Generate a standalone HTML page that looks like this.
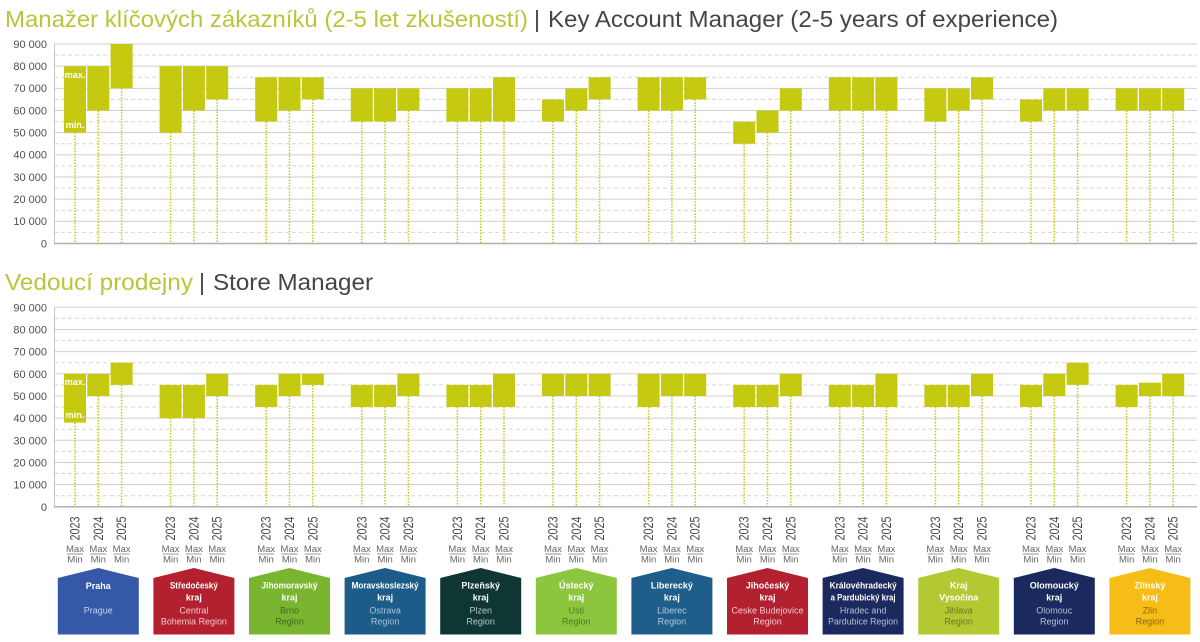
<!DOCTYPE html>
<html><head><meta charset="utf-8"><style>
html,body{margin:0;padding:0;background:#fff;}
svg{display:block;font-family:"Liberation Sans","DejaVu Sans",sans-serif;}
</style></head><body>
<svg width="1200" height="642" viewBox="0 0 1200 642" xmlns="http://www.w3.org/2000/svg">
<rect width="1200" height="642" fill="#fff"/>
<!-- Titles -->
<text x="5" y="27" font-size="23" fill="#bac53b" textLength="523" lengthAdjust="spacingAndGlyphs">Manažer klíčových zákazníků (2-5 let zkušeností)</text>
<text x="534" y="27" font-size="23" fill="#454545">|</text>
<text x="548" y="27" font-size="23" fill="#454545" textLength="510" lengthAdjust="spacingAndGlyphs">Key Account Manager (2-5 years of experience)</text>

<text x="5" y="290" font-size="23" fill="#bac53b" textLength="188" lengthAdjust="spacingAndGlyphs">Vedoucí prodejny</text>
<text x="199" y="290" font-size="23" fill="#454545">|</text>
<text x="213" y="290" font-size="23" fill="#454545" textLength="160" lengthAdjust="spacingAndGlyphs">Store Manager</text>

<!-- TOP CHART GRID -->
<g stroke="#cfcfcf" stroke-width="1">
<line x1="54" y1="44" x2="1197" y2="44"/>
<line x1="54" y1="66.17" x2="1197" y2="66.17"/>
<line x1="54" y1="88.33" x2="1197" y2="88.33"/>
<line x1="54" y1="110.5" x2="1197" y2="110.5"/>
<line x1="54" y1="132.67" x2="1197" y2="132.67"/>
<line x1="54" y1="154.83" x2="1197" y2="154.83"/>
<line x1="54" y1="177" x2="1197" y2="177"/>
<line x1="54" y1="199.17" x2="1197" y2="199.17"/>
<line x1="54" y1="221.33" x2="1197" y2="221.33"/>
</g>
<g stroke="#d6d6d6" stroke-width="1" stroke-dasharray="4 3">
<line x1="54" y1="55.08" x2="1197" y2="55.08"/>
<line x1="54" y1="77.25" x2="1197" y2="77.25"/>
<line x1="54" y1="99.42" x2="1197" y2="99.42"/>
<line x1="54" y1="121.58" x2="1197" y2="121.58"/>
<line x1="54" y1="143.75" x2="1197" y2="143.75"/>
<line x1="54" y1="165.92" x2="1197" y2="165.92"/>
<line x1="54" y1="188.08" x2="1197" y2="188.08"/>
<line x1="54" y1="210.25" x2="1197" y2="210.25"/>
<line x1="54" y1="232.42" x2="1197" y2="232.42"/>
</g>
<line x1="54.5" y1="44" x2="54.5" y2="243.5" stroke="#c4c4c4" stroke-width="1"/>
<line x1="54" y1="243.5" x2="1197" y2="243.5" stroke="#b0b0b0" stroke-width="1.5"/>
<g font-size="11" fill="#505050" text-anchor="end">
<text x="47" y="48">90 000</text>
<text x="47" y="70">80 000</text>
<text x="47" y="92">70 000</text>
<text x="47" y="114.5">60 000</text>
<text x="47" y="136.5">50 000</text>
<text x="47" y="158.5">40 000</text>
<text x="47" y="181">30 000</text>
<text x="47" y="203">20 000</text>
<text x="47" y="225">10 000</text>
<text x="47" y="247.5">0</text>
</g>

<!-- TOP dotted lines -->
<g stroke="#c5c90f" stroke-width="1.5" stroke-dasharray="1.5 1.5">
<line x1="75" y1="132.67" x2="75" y2="243"/><line x1="98.3" y1="110.5" x2="98.3" y2="243"/><line x1="121.6" y1="88.33" x2="121.6" y2="243"/>
<line x1="170.6" y1="132.67" x2="170.6" y2="243"/><line x1="193.9" y1="110.5" x2="193.9" y2="243"/><line x1="217.2" y1="99.42" x2="217.2" y2="243"/>
<line x1="266.2" y1="121.58" x2="266.2" y2="243"/><line x1="289.5" y1="110.5" x2="289.5" y2="243"/><line x1="312.8" y1="99.42" x2="312.8" y2="243"/>
<line x1="361.8" y1="121.58" x2="361.8" y2="243"/><line x1="385.1" y1="121.58" x2="385.1" y2="243"/><line x1="408.4" y1="110.5" x2="408.4" y2="243"/>
<line x1="457.4" y1="121.58" x2="457.4" y2="243"/><line x1="480.7" y1="121.58" x2="480.7" y2="243"/><line x1="504" y1="121.58" x2="504" y2="243"/>
<line x1="553" y1="121.58" x2="553" y2="243"/><line x1="576.3" y1="110.5" x2="576.3" y2="243"/><line x1="599.6" y1="99.42" x2="599.6" y2="243"/>
<line x1="648.6" y1="110.5" x2="648.6" y2="243"/><line x1="671.9" y1="110.5" x2="671.9" y2="243"/><line x1="695.2" y1="99.42" x2="695.2" y2="243"/>
<line x1="744.2" y1="143.75" x2="744.2" y2="243"/><line x1="767.5" y1="132.67" x2="767.5" y2="243"/><line x1="790.8" y1="110.5" x2="790.8" y2="243"/>
<line x1="839.8" y1="110.5" x2="839.8" y2="243"/><line x1="863.1" y1="110.5" x2="863.1" y2="243"/><line x1="886.4" y1="110.5" x2="886.4" y2="243"/>
<line x1="935.4" y1="121.58" x2="935.4" y2="243"/><line x1="958.7" y1="110.5" x2="958.7" y2="243"/><line x1="982" y1="99.42" x2="982" y2="243"/>
<line x1="1031" y1="121.58" x2="1031" y2="243"/><line x1="1054.3" y1="110.5" x2="1054.3" y2="243"/><line x1="1077.6" y1="110.5" x2="1077.6" y2="243"/>
<line x1="1126.6" y1="110.5" x2="1126.6" y2="243"/><line x1="1149.9" y1="110.5" x2="1149.9" y2="243"/><line x1="1173.2" y1="110.5" x2="1173.2" y2="243"/>
</g>
<!-- TOP bars -->
<g fill="#c5c90f">
<rect x="64" y="66.17" width="22" height="66.5"/><rect x="87.3" y="66.17" width="22" height="44.33"/><rect x="110.6" y="44" width="22" height="44.33"/>
<rect x="159.6" y="66.17" width="22" height="66.5"/><rect x="182.9" y="66.17" width="22" height="44.33"/><rect x="206.2" y="66.17" width="22" height="33.25"/>
<rect x="255.2" y="77.25" width="22" height="44.33"/><rect x="278.5" y="77.25" width="22" height="33.25"/><rect x="301.8" y="77.25" width="22" height="22.17"/>
<rect x="350.8" y="88.33" width="22" height="33.25"/><rect x="374.1" y="88.33" width="22" height="33.25"/><rect x="397.4" y="88.33" width="22" height="22.17"/>
<rect x="446.4" y="88.33" width="22" height="33.25"/><rect x="469.7" y="88.33" width="22" height="33.25"/><rect x="493" y="77.25" width="22" height="44.33"/>
<rect x="542" y="99.42" width="22" height="22.17"/><rect x="565.3" y="88.33" width="22" height="22.17"/><rect x="588.6" y="77.25" width="22" height="22.17"/>
<rect x="637.6" y="77.25" width="22" height="33.25"/><rect x="660.9" y="77.25" width="22" height="33.25"/><rect x="684.2" y="77.25" width="22" height="22.17"/>
<rect x="733.2" y="121.58" width="22" height="22.17"/><rect x="756.5" y="110.5" width="22" height="22.17"/><rect x="779.8" y="88.33" width="22" height="22.17"/>
<rect x="828.8" y="77.25" width="22" height="33.25"/><rect x="852.1" y="77.25" width="22" height="33.25"/><rect x="875.4" y="77.25" width="22" height="33.25"/>
<rect x="924.4" y="88.33" width="22" height="33.25"/><rect x="947.7" y="88.33" width="22" height="22.17"/><rect x="971" y="77.25" width="22" height="22.17"/>
<rect x="1020" y="99.42" width="22" height="22.17"/><rect x="1043.3" y="88.33" width="22" height="22.17"/><rect x="1066.6" y="88.33" width="22" height="22.17"/>
<rect x="1115.6" y="88.33" width="22" height="22.17"/><rect x="1138.9" y="88.33" width="22" height="22.17"/><rect x="1162.2" y="88.33" width="22" height="22.17"/>
</g>
<g font-size="9" font-weight="bold" fill="#fff" text-anchor="middle">
<text x="75" y="78">max.</text>
<text x="75" y="128">min.</text>
</g>

<!-- BOTTOM CHART GRID -->
<g stroke="#cfcfcf" stroke-width="1">
<line x1="54" y1="307.3" x2="1197" y2="307.3"/>
<line x1="54" y1="329.47" x2="1197" y2="329.47"/>
<line x1="54" y1="351.63" x2="1197" y2="351.63"/>
<line x1="54" y1="373.8" x2="1197" y2="373.8"/>
<line x1="54" y1="395.97" x2="1197" y2="395.97"/>
<line x1="54" y1="418.13" x2="1197" y2="418.13"/>
<line x1="54" y1="440.3" x2="1197" y2="440.3"/>
<line x1="54" y1="462.47" x2="1197" y2="462.47"/>
<line x1="54" y1="484.63" x2="1197" y2="484.63"/>
</g>
<g stroke="#d6d6d6" stroke-width="1" stroke-dasharray="4 3">
<line x1="54" y1="318.38" x2="1197" y2="318.38"/>
<line x1="54" y1="340.55" x2="1197" y2="340.55"/>
<line x1="54" y1="362.72" x2="1197" y2="362.72"/>
<line x1="54" y1="384.88" x2="1197" y2="384.88"/>
<line x1="54" y1="407.05" x2="1197" y2="407.05"/>
<line x1="54" y1="429.22" x2="1197" y2="429.22"/>
<line x1="54" y1="451.38" x2="1197" y2="451.38"/>
<line x1="54" y1="473.55" x2="1197" y2="473.55"/>
<line x1="54" y1="495.72" x2="1197" y2="495.72"/>
</g>
<line x1="54.5" y1="307.3" x2="54.5" y2="506.8" stroke="#c4c4c4" stroke-width="1"/>
<line x1="54" y1="506.8" x2="1197" y2="506.8" stroke="#b0b0b0" stroke-width="1.5"/>
<g font-size="11" fill="#505050" text-anchor="end">
<text x="47" y="311.3">90 000</text>
<text x="47" y="333.5">80 000</text>
<text x="47" y="355.6">70 000</text>
<text x="47" y="377.8">60 000</text>
<text x="47" y="400">50 000</text>
<text x="47" y="422.1">40 000</text>
<text x="47" y="444.3">30 000</text>
<text x="47" y="466.5">20 000</text>
<text x="47" y="488.6">10 000</text>
<text x="47" y="510.8">0</text>
</g>
<!-- BOTTOM dotted lines -->
<g stroke="#c5c90f" stroke-width="1.5" stroke-dasharray="1.5 1.5">
<line x1="75" y1="422.57" x2="75" y2="506.3"/><line x1="98.3" y1="395.97" x2="98.3" y2="506.3"/><line x1="121.6" y1="384.88" x2="121.6" y2="506.3"/>
<line x1="170.6" y1="418.13" x2="170.6" y2="506.3"/><line x1="193.9" y1="418.13" x2="193.9" y2="506.3"/><line x1="217.2" y1="395.97" x2="217.2" y2="506.3"/>
<line x1="266.2" y1="407.05" x2="266.2" y2="506.3"/><line x1="289.5" y1="395.97" x2="289.5" y2="506.3"/><line x1="312.8" y1="384.88" x2="312.8" y2="506.3"/>
<line x1="361.8" y1="407.05" x2="361.8" y2="506.3"/><line x1="385.1" y1="407.05" x2="385.1" y2="506.3"/><line x1="408.4" y1="395.97" x2="408.4" y2="506.3"/>
<line x1="457.4" y1="407.05" x2="457.4" y2="506.3"/><line x1="480.7" y1="407.05" x2="480.7" y2="506.3"/><line x1="504" y1="407.05" x2="504" y2="506.3"/>
<line x1="553" y1="395.97" x2="553" y2="506.3"/><line x1="576.3" y1="395.97" x2="576.3" y2="506.3"/><line x1="599.6" y1="395.97" x2="599.6" y2="506.3"/>
<line x1="648.6" y1="407.05" x2="648.6" y2="506.3"/><line x1="671.9" y1="395.97" x2="671.9" y2="506.3"/><line x1="695.2" y1="395.97" x2="695.2" y2="506.3"/>
<line x1="744.2" y1="407.05" x2="744.2" y2="506.3"/><line x1="767.5" y1="407.05" x2="767.5" y2="506.3"/><line x1="790.8" y1="395.97" x2="790.8" y2="506.3"/>
<line x1="839.8" y1="407.05" x2="839.8" y2="506.3"/><line x1="863.1" y1="407.05" x2="863.1" y2="506.3"/><line x1="886.4" y1="407.05" x2="886.4" y2="506.3"/>
<line x1="935.4" y1="407.05" x2="935.4" y2="506.3"/><line x1="958.7" y1="407.05" x2="958.7" y2="506.3"/><line x1="982" y1="395.97" x2="982" y2="506.3"/>
<line x1="1031" y1="407.05" x2="1031" y2="506.3"/><line x1="1054.3" y1="395.97" x2="1054.3" y2="506.3"/><line x1="1077.6" y1="384.88" x2="1077.6" y2="506.3"/>
<line x1="1126.6" y1="407.05" x2="1126.6" y2="506.3"/><line x1="1149.9" y1="395.97" x2="1149.9" y2="506.3"/><line x1="1173.2" y1="395.97" x2="1173.2" y2="506.3"/>
</g>
<!-- BOTTOM bars -->
<g fill="#c5c90f">
<rect x="64" y="373.8" width="22" height="48.77"/><rect x="87.3" y="373.8" width="22" height="22.17"/><rect x="110.6" y="362.72" width="22" height="22.16"/>
<rect x="159.6" y="384.88" width="22" height="33.25"/><rect x="182.9" y="384.88" width="22" height="33.25"/><rect x="206.2" y="373.8" width="22" height="22.17"/>
<rect x="255.2" y="384.88" width="22" height="22.17"/><rect x="278.5" y="373.8" width="22" height="22.17"/><rect x="301.8" y="373.8" width="22" height="11.08"/>
<rect x="350.8" y="384.88" width="22" height="22.17"/><rect x="374.1" y="384.88" width="22" height="22.17"/><rect x="397.4" y="373.8" width="22" height="22.17"/>
<rect x="446.4" y="384.88" width="22" height="22.17"/><rect x="469.7" y="384.88" width="22" height="22.17"/><rect x="493" y="373.8" width="22" height="33.25"/>
<rect x="542" y="373.8" width="22" height="22.17"/><rect x="565.3" y="373.8" width="22" height="22.17"/><rect x="588.6" y="373.8" width="22" height="22.17"/>
<rect x="637.6" y="373.8" width="22" height="33.25"/><rect x="660.9" y="373.8" width="22" height="22.17"/><rect x="684.2" y="373.8" width="22" height="22.17"/>
<rect x="733.2" y="384.88" width="22" height="22.17"/><rect x="756.5" y="384.88" width="22" height="22.17"/><rect x="779.8" y="373.8" width="22" height="22.17"/>
<rect x="828.8" y="384.88" width="22" height="22.17"/><rect x="852.1" y="384.88" width="22" height="22.17"/><rect x="875.4" y="373.8" width="22" height="33.25"/>
<rect x="924.4" y="384.88" width="22" height="22.17"/><rect x="947.7" y="384.88" width="22" height="22.17"/><rect x="971" y="373.8" width="22" height="22.17"/>
<rect x="1020" y="384.88" width="22" height="22.17"/><rect x="1043.3" y="373.8" width="22" height="22.17"/><rect x="1066.6" y="362.72" width="22" height="22.16"/>
<rect x="1115.6" y="384.88" width="22" height="22.17"/><rect x="1138.9" y="382.67" width="22" height="13.3"/><rect x="1162.2" y="373.8" width="22" height="22.17"/>
</g>
<g font-size="9" font-weight="bold" fill="#fff" text-anchor="middle">
<text x="75" y="385">max.</text>
<text x="75" y="418">min.</text>
</g>

<!-- YEAR LABELS -->
<g font-size="14" fill="#4a4a4a" text-anchor="middle">
<text transform="translate(79.5,528.5) rotate(-90)" textLength="24" lengthAdjust="spacingAndGlyphs">2023</text>
<text transform="translate(102.8,528.5) rotate(-90)" textLength="24" lengthAdjust="spacingAndGlyphs">2024</text>
<text transform="translate(126.1,528.5) rotate(-90)" textLength="24" lengthAdjust="spacingAndGlyphs">2025</text>
<text transform="translate(175.1,528.5) rotate(-90)" textLength="24" lengthAdjust="spacingAndGlyphs">2023</text>
<text transform="translate(198.4,528.5) rotate(-90)" textLength="24" lengthAdjust="spacingAndGlyphs">2024</text>
<text transform="translate(221.7,528.5) rotate(-90)" textLength="24" lengthAdjust="spacingAndGlyphs">2025</text>
<text transform="translate(270.7,528.5) rotate(-90)" textLength="24" lengthAdjust="spacingAndGlyphs">2023</text>
<text transform="translate(294,528.5) rotate(-90)" textLength="24" lengthAdjust="spacingAndGlyphs">2024</text>
<text transform="translate(317.3,528.5) rotate(-90)" textLength="24" lengthAdjust="spacingAndGlyphs">2025</text>
<text transform="translate(366.3,528.5) rotate(-90)" textLength="24" lengthAdjust="spacingAndGlyphs">2023</text>
<text transform="translate(389.6,528.5) rotate(-90)" textLength="24" lengthAdjust="spacingAndGlyphs">2024</text>
<text transform="translate(412.9,528.5) rotate(-90)" textLength="24" lengthAdjust="spacingAndGlyphs">2025</text>
<text transform="translate(461.9,528.5) rotate(-90)" textLength="24" lengthAdjust="spacingAndGlyphs">2023</text>
<text transform="translate(485.2,528.5) rotate(-90)" textLength="24" lengthAdjust="spacingAndGlyphs">2024</text>
<text transform="translate(508.5,528.5) rotate(-90)" textLength="24" lengthAdjust="spacingAndGlyphs">2025</text>
<text transform="translate(557.5,528.5) rotate(-90)" textLength="24" lengthAdjust="spacingAndGlyphs">2023</text>
<text transform="translate(580.8,528.5) rotate(-90)" textLength="24" lengthAdjust="spacingAndGlyphs">2024</text>
<text transform="translate(604.1,528.5) rotate(-90)" textLength="24" lengthAdjust="spacingAndGlyphs">2025</text>
<text transform="translate(653.1,528.5) rotate(-90)" textLength="24" lengthAdjust="spacingAndGlyphs">2023</text>
<text transform="translate(676.4,528.5) rotate(-90)" textLength="24" lengthAdjust="spacingAndGlyphs">2024</text>
<text transform="translate(699.7,528.5) rotate(-90)" textLength="24" lengthAdjust="spacingAndGlyphs">2025</text>
<text transform="translate(748.7,528.5) rotate(-90)" textLength="24" lengthAdjust="spacingAndGlyphs">2023</text>
<text transform="translate(772,528.5) rotate(-90)" textLength="24" lengthAdjust="spacingAndGlyphs">2024</text>
<text transform="translate(795.3,528.5) rotate(-90)" textLength="24" lengthAdjust="spacingAndGlyphs">2025</text>
<text transform="translate(844.3,528.5) rotate(-90)" textLength="24" lengthAdjust="spacingAndGlyphs">2023</text>
<text transform="translate(867.6,528.5) rotate(-90)" textLength="24" lengthAdjust="spacingAndGlyphs">2024</text>
<text transform="translate(890.9,528.5) rotate(-90)" textLength="24" lengthAdjust="spacingAndGlyphs">2025</text>
<text transform="translate(939.9,528.5) rotate(-90)" textLength="24" lengthAdjust="spacingAndGlyphs">2023</text>
<text transform="translate(963.2,528.5) rotate(-90)" textLength="24" lengthAdjust="spacingAndGlyphs">2024</text>
<text transform="translate(986.5,528.5) rotate(-90)" textLength="24" lengthAdjust="spacingAndGlyphs">2025</text>
<text transform="translate(1035.5,528.5) rotate(-90)" textLength="24" lengthAdjust="spacingAndGlyphs">2023</text>
<text transform="translate(1058.8,528.5) rotate(-90)" textLength="24" lengthAdjust="spacingAndGlyphs">2024</text>
<text transform="translate(1082.1,528.5) rotate(-90)" textLength="24" lengthAdjust="spacingAndGlyphs">2025</text>
<text transform="translate(1131.1,528.5) rotate(-90)" textLength="24" lengthAdjust="spacingAndGlyphs">2023</text>
<text transform="translate(1154.4,528.5) rotate(-90)" textLength="24" lengthAdjust="spacingAndGlyphs">2024</text>
<text transform="translate(1177.7,528.5) rotate(-90)" textLength="24" lengthAdjust="spacingAndGlyphs">2025</text>
</g>

<!-- MAX / MIN -->
<g font-size="9.5" fill="#666" text-anchor="middle">
<text x="75" y="552">Max</text><text x="75" y="562.5">Min</text>
<text x="98.3" y="552">Max</text><text x="98.3" y="562.5">Min</text>
<text x="121.6" y="552">Max</text><text x="121.6" y="562.5">Min</text>
<text x="170.6" y="552">Max</text><text x="170.6" y="562.5">Min</text>
<text x="193.9" y="552">Max</text><text x="193.9" y="562.5">Min</text>
<text x="217.2" y="552">Max</text><text x="217.2" y="562.5">Min</text>
<text x="266.2" y="552">Max</text><text x="266.2" y="562.5">Min</text>
<text x="289.5" y="552">Max</text><text x="289.5" y="562.5">Min</text>
<text x="312.8" y="552">Max</text><text x="312.8" y="562.5">Min</text>
<text x="361.8" y="552">Max</text><text x="361.8" y="562.5">Min</text>
<text x="385.1" y="552">Max</text><text x="385.1" y="562.5">Min</text>
<text x="408.4" y="552">Max</text><text x="408.4" y="562.5">Min</text>
<text x="457.4" y="552">Max</text><text x="457.4" y="562.5">Min</text>
<text x="480.7" y="552">Max</text><text x="480.7" y="562.5">Min</text>
<text x="504" y="552">Max</text><text x="504" y="562.5">Min</text>
<text x="553" y="552">Max</text><text x="553" y="562.5">Min</text>
<text x="576.3" y="552">Max</text><text x="576.3" y="562.5">Min</text>
<text x="599.6" y="552">Max</text><text x="599.6" y="562.5">Min</text>
<text x="648.6" y="552">Max</text><text x="648.6" y="562.5">Min</text>
<text x="671.9" y="552">Max</text><text x="671.9" y="562.5">Min</text>
<text x="695.2" y="552">Max</text><text x="695.2" y="562.5">Min</text>
<text x="744.2" y="552">Max</text><text x="744.2" y="562.5">Min</text>
<text x="767.5" y="552">Max</text><text x="767.5" y="562.5">Min</text>
<text x="790.8" y="552">Max</text><text x="790.8" y="562.5">Min</text>
<text x="839.8" y="552">Max</text><text x="839.8" y="562.5">Min</text>
<text x="863.1" y="552">Max</text><text x="863.1" y="562.5">Min</text>
<text x="886.4" y="552">Max</text><text x="886.4" y="562.5">Min</text>
<text x="935.4" y="552">Max</text><text x="935.4" y="562.5">Min</text>
<text x="958.7" y="552">Max</text><text x="958.7" y="562.5">Min</text>
<text x="982" y="552">Max</text><text x="982" y="562.5">Min</text>
<text x="1031" y="552">Max</text><text x="1031" y="562.5">Min</text>
<text x="1054.3" y="552">Max</text><text x="1054.3" y="562.5">Min</text>
<text x="1077.6" y="552">Max</text><text x="1077.6" y="562.5">Min</text>
<text x="1126.6" y="552">Max</text><text x="1126.6" y="562.5">Min</text>
<text x="1149.9" y="552">Max</text><text x="1149.9" y="562.5">Min</text>
<text x="1173.2" y="552">Max</text><text x="1173.2" y="562.5">Min</text>
</g>
<g stroke="#777" stroke-width="0.8">
<line x1="67" y1="554" x2="83" y2="554"/><line x1="90.3" y1="554" x2="106.3" y2="554"/><line x1="113.6" y1="554" x2="129.6" y2="554"/>
<line x1="162.6" y1="554" x2="178.6" y2="554"/><line x1="185.9" y1="554" x2="201.9" y2="554"/><line x1="209.2" y1="554" x2="225.2" y2="554"/>
<line x1="258.2" y1="554" x2="274.2" y2="554"/><line x1="281.5" y1="554" x2="297.5" y2="554"/><line x1="304.8" y1="554" x2="320.8" y2="554"/>
<line x1="353.8" y1="554" x2="369.8" y2="554"/><line x1="377.1" y1="554" x2="393.1" y2="554"/><line x1="400.4" y1="554" x2="416.4" y2="554"/>
<line x1="449.4" y1="554" x2="465.4" y2="554"/><line x1="472.7" y1="554" x2="488.7" y2="554"/><line x1="496" y1="554" x2="512" y2="554"/>
<line x1="545" y1="554" x2="561" y2="554"/><line x1="568.3" y1="554" x2="584.3" y2="554"/><line x1="591.6" y1="554" x2="607.6" y2="554"/>
<line x1="640.6" y1="554" x2="656.6" y2="554"/><line x1="663.9" y1="554" x2="679.9" y2="554"/><line x1="687.2" y1="554" x2="703.2" y2="554"/>
<line x1="736.2" y1="554" x2="752.2" y2="554"/><line x1="759.5" y1="554" x2="775.5" y2="554"/><line x1="782.8" y1="554" x2="798.8" y2="554"/>
<line x1="831.8" y1="554" x2="847.8" y2="554"/><line x1="855.1" y1="554" x2="871.1" y2="554"/><line x1="878.4" y1="554" x2="894.4" y2="554"/>
<line x1="927.4" y1="554" x2="943.4" y2="554"/><line x1="950.7" y1="554" x2="966.7" y2="554"/><line x1="974" y1="554" x2="990" y2="554"/>
<line x1="1023" y1="554" x2="1039" y2="554"/><line x1="1046.3" y1="554" x2="1062.3" y2="554"/><line x1="1069.6" y1="554" x2="1085.6" y2="554"/>
<line x1="1118.6" y1="554" x2="1134.6" y2="554"/><line x1="1141.9" y1="554" x2="1157.9" y2="554"/><line x1="1165.2" y1="554" x2="1181.2" y2="554"/>
</g>

<!-- BADGES -->
<g>
<polygon points="57.8,578 98.3,568 138.8,578 138.8,634.5 57.8,634.5" fill="#3558a8"/>
<polygon points="153.4,578 193.9,568 234.4,578 234.4,634.5 153.4,634.5" fill="#b3202f"/>
<polygon points="249,578 289.5,568 330,578 330,634.5 249,634.5" fill="#7ab530"/>
<polygon points="344.6,578 385.1,568 425.6,578 425.6,634.5 344.6,634.5" fill="#1d5c88"/>
<polygon points="440.2,578 480.7,568 521.2,578 521.2,634.5 440.2,634.5" fill="#0e3734"/>
<polygon points="535.8,578 576.3,568 616.8,578 616.8,634.5 535.8,634.5" fill="#8cc63f"/>
<polygon points="631.4,578 671.9,568 712.4,578 712.4,634.5 631.4,634.5" fill="#1f5e8a"/>
<polygon points="727,578 767.5,568 808,578 808,634.5 727,634.5" fill="#b3202f"/>
<polygon points="822.6,578 863.1,568 903.6,578 903.6,634.5 822.6,634.5" fill="#1b2a5e"/>
<polygon points="918.2,578 958.7,568 999.2,578 999.2,634.5 918.2,634.5" fill="#b4c834"/>
<polygon points="1013.8,578 1054.3,568 1094.8,578 1094.8,634.5 1013.8,634.5" fill="#1b2a5e"/>
<polygon points="1109.4,578 1149.9,568 1190.4,578 1190.4,634.5 1109.4,634.5" fill="#f6bd16"/>
</g>
<g font-size="9" font-weight="bold" fill="#fff" text-anchor="middle">
<text x="98.3" y="589">Praha</text>
<text x="193.9" y="588.5" textLength="48" lengthAdjust="spacingAndGlyphs">Středočeský</text><text x="193.9" y="600.5">kraj</text>
<text x="289.5" y="588.5" textLength="56" lengthAdjust="spacingAndGlyphs">Jihomoravský</text><text x="289.5" y="600.5">kraj</text>
<text x="385.1" y="588.5" textLength="67" lengthAdjust="spacingAndGlyphs">Moravskoslezský</text><text x="385.1" y="600.5">kraj</text>
<text x="480.7" y="588.5">Plzeňský</text><text x="480.7" y="600.5">kraj</text>
<text x="576.3" y="588.5">Ústecký</text><text x="576.3" y="600.5">kraj</text>
<text x="671.9" y="588.5">Liberecký</text><text x="671.9" y="600.5">kraj</text>
<text x="767.5" y="588.5">Jihočeský</text><text x="767.5" y="600.5">kraj</text>
<text x="863.1" y="588.5" textLength="67" lengthAdjust="spacingAndGlyphs">Královéhradecký</text><text x="863.1" y="600.5" textLength="65" lengthAdjust="spacingAndGlyphs">a Pardubický kraj</text>
<text x="958.7" y="588.5">Kraj</text><text x="958.7" y="600.5">Vysočina</text>
<text x="1054.3" y="588.5">Olomoucký</text><text x="1054.3" y="600.5">kraj</text>
<text x="1149.9" y="588.5">Zlínský</text><text x="1149.9" y="600.5">kraj</text>
</g>
<g font-size="9" text-anchor="middle">
<text x="98.3" y="613.5" fill="#c9d3ee">Prague</text>
<text x="193.9" y="613.5" fill="#f3c9c9">Central</text><text x="193.9" y="624.5" fill="#f3c9c9" textLength="66" lengthAdjust="spacingAndGlyphs">Bohemia Region</text>
<text x="289.5" y="613.5" fill="#3f6b1c">Brno</text><text x="289.5" y="624.5" fill="#3f6b1c">Region</text>
<text x="385.1" y="613.5" fill="#a9c3d9">Ostrava</text><text x="385.1" y="624.5" fill="#a9c3d9">Region</text>
<text x="480.7" y="613.5" fill="#b8c8c4">Plzen</text><text x="480.7" y="624.5" fill="#b8c8c4">Region</text>
<text x="576.3" y="613.5" fill="#4c7a22">Usti</text><text x="576.3" y="624.5" fill="#4c7a22">Region</text>
<text x="671.9" y="613.5" fill="#b0c8dc">Liberec</text><text x="671.9" y="624.5" fill="#b0c8dc">Region</text>
<text x="767.5" y="613.5" fill="#f3c9c9" textLength="72" lengthAdjust="spacingAndGlyphs">Ceske Budejovice</text><text x="767.5" y="624.5" fill="#f3c9c9">Region</text>
<text x="863.1" y="613.5" fill="#b6bfd8">Hradec and</text><text x="863.1" y="624.5" fill="#b6bfd8" textLength="70" lengthAdjust="spacingAndGlyphs">Pardubice Region</text>
<text x="958.7" y="613.5" fill="#6a7420">Jihlava</text><text x="958.7" y="624.5" fill="#6a7420">Region</text>
<text x="1054.3" y="613.5" fill="#b6bfd8">Olomouc</text><text x="1054.3" y="624.5" fill="#b6bfd8">Region</text>
<text x="1149.9" y="613.5" fill="#8a6510">Zlin</text><text x="1149.9" y="624.5" fill="#8a6510">Region</text>
</g>
</svg>
</body></html>
